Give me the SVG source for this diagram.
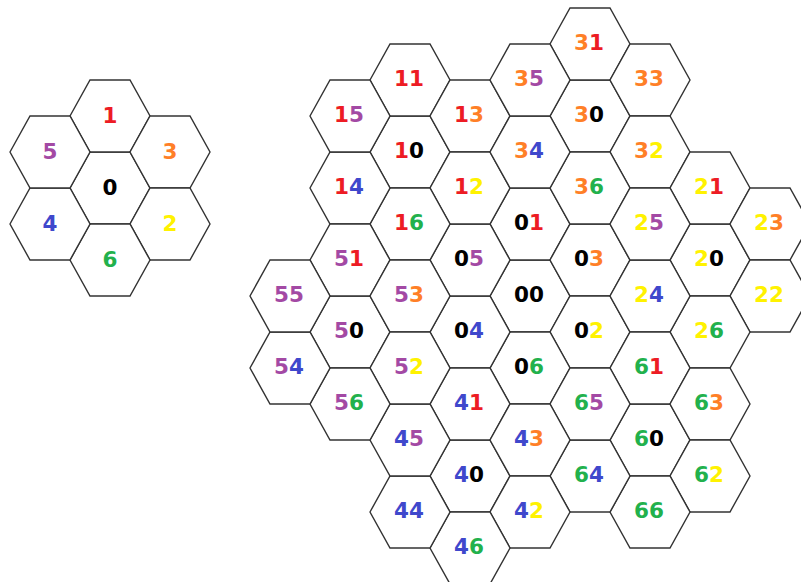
<svg xmlns="http://www.w3.org/2000/svg" xmlns:xlink="http://www.w3.org/1999/xlink" width="801" height="582" viewBox="0 0 801 582">
<style>
.hex{fill:#fff;stroke:#333;stroke-width:1.4}
text{font-family:"DejaVu Sans",Verdana,sans-serif;font-weight:bold;font-size:21.5px;text-anchor:middle}
.d0{fill:#000}.d1{fill:#ED1C24}.d2{fill:#FFF200}.d3{fill:#FF7F27}.d4{fill:#3F48CC}.d5{fill:#A349A4}.d6{fill:#22B14C}
</style>
<defs>
<polygon id="hex" class="hex" points="-40,0 -20,-36 20,-36 40,0 20,36 -20,36"/>
</defs>
<rect width="801" height="582" fill="#fff"/>
<g id="small">
<g id="s0"><use href="#hex" x="110" y="188"/><text x="110" y="195" class="d0">0</text></g>
<g id="s1"><use href="#hex" x="110" y="116"/><text x="110" y="123" class="d1">1</text></g>
<g id="s3"><use href="#hex" x="170" y="152"/><text x="170" y="159" class="d3">3</text></g>
<g id="s2"><use href="#hex" x="170" y="224"/><text x="170" y="231" class="d2">2</text></g>
<g id="s6"><use href="#hex" x="110" y="260"/><text x="110" y="267" class="d6">6</text></g>
<g id="s4"><use href="#hex" x="50" y="224"/><text x="50" y="231" class="d4">4</text></g>
<g id="s5"><use href="#hex" x="50" y="152"/><text x="50" y="159" class="d5">5</text></g>
</g>
<g id="big">
<g id="n00"><use href="#hex" x="530" y="296"/><text x="529" y="302"><tspan class="d0">0</tspan><tspan class="d0">0</tspan></text></g>
<g id="n01"><use href="#hex" x="530" y="224"/><text x="529" y="230"><tspan class="d0">0</tspan><tspan class="d1">1</tspan></text></g>
<g id="n03"><use href="#hex" x="590" y="260"/><text x="589" y="266"><tspan class="d0">0</tspan><tspan class="d3">3</tspan></text></g>
<g id="n02"><use href="#hex" x="590" y="332"/><text x="589" y="338"><tspan class="d0">0</tspan><tspan class="d2">2</tspan></text></g>
<g id="n06"><use href="#hex" x="530" y="368"/><text x="529" y="374"><tspan class="d0">0</tspan><tspan class="d6">6</tspan></text></g>
<g id="n04"><use href="#hex" x="470" y="332"/><text x="469" y="338"><tspan class="d0">0</tspan><tspan class="d4">4</tspan></text></g>
<g id="n05"><use href="#hex" x="470" y="260"/><text x="469" y="266"><tspan class="d0">0</tspan><tspan class="d5">5</tspan></text></g>

<g id="n10"><use href="#hex" x="410" y="152"/><text x="409" y="158"><tspan class="d1">1</tspan><tspan class="d0">0</tspan></text></g>
<g id="n11"><use href="#hex" x="410" y="80"/><text x="409" y="86"><tspan class="d1">1</tspan><tspan class="d1">1</tspan></text></g>
<g id="n13"><use href="#hex" x="470" y="116"/><text x="469" y="122"><tspan class="d1">1</tspan><tspan class="d3">3</tspan></text></g>
<g id="n12"><use href="#hex" x="470" y="188"/><text x="469" y="194"><tspan class="d1">1</tspan><tspan class="d2">2</tspan></text></g>
<g id="n16"><use href="#hex" x="410" y="224"/><text x="409" y="230"><tspan class="d1">1</tspan><tspan class="d6">6</tspan></text></g>
<g id="n14"><use href="#hex" x="350" y="188"/><text x="349" y="194"><tspan class="d1">1</tspan><tspan class="d4">4</tspan></text></g>
<g id="n15"><use href="#hex" x="350" y="116"/><text x="349" y="122"><tspan class="d1">1</tspan><tspan class="d5">5</tspan></text></g>

<g id="n30"><use href="#hex" x="590" y="116"/><text x="589" y="122"><tspan class="d3">3</tspan><tspan class="d0">0</tspan></text></g>
<g id="n31"><use href="#hex" x="590" y="44"/><text x="589" y="50"><tspan class="d3">3</tspan><tspan class="d1">1</tspan></text></g>
<g id="n33"><use href="#hex" x="650" y="80"/><text x="649" y="86"><tspan class="d3">3</tspan><tspan class="d3">3</tspan></text></g>
<g id="n32"><use href="#hex" x="650" y="152"/><text x="649" y="158"><tspan class="d3">3</tspan><tspan class="d2">2</tspan></text></g>
<g id="n36"><use href="#hex" x="590" y="188"/><text x="589" y="194"><tspan class="d3">3</tspan><tspan class="d6">6</tspan></text></g>
<g id="n34"><use href="#hex" x="530" y="152"/><text x="529" y="158"><tspan class="d3">3</tspan><tspan class="d4">4</tspan></text></g>
<g id="n35"><use href="#hex" x="530" y="80"/><text x="529" y="86"><tspan class="d3">3</tspan><tspan class="d5">5</tspan></text></g>

<g id="n20"><use href="#hex" x="710" y="260"/><text x="709" y="266"><tspan class="d2">2</tspan><tspan class="d0">0</tspan></text></g>
<g id="n21"><use href="#hex" x="710" y="188"/><text x="709" y="194"><tspan class="d2">2</tspan><tspan class="d1">1</tspan></text></g>
<g id="n23"><use href="#hex" x="770" y="224"/><text x="769" y="230"><tspan class="d2">2</tspan><tspan class="d3">3</tspan></text></g>
<g id="n22"><use href="#hex" x="770" y="296"/><text x="769" y="302"><tspan class="d2">2</tspan><tspan class="d2">2</tspan></text></g>
<g id="n26"><use href="#hex" x="710" y="332"/><text x="709" y="338"><tspan class="d2">2</tspan><tspan class="d6">6</tspan></text></g>
<g id="n24"><use href="#hex" x="650" y="296"/><text x="649" y="302"><tspan class="d2">2</tspan><tspan class="d4">4</tspan></text></g>
<g id="n25"><use href="#hex" x="650" y="224"/><text x="649" y="230"><tspan class="d2">2</tspan><tspan class="d5">5</tspan></text></g>

<g id="n60"><use href="#hex" x="650" y="440"/><text x="649" y="446"><tspan class="d6">6</tspan><tspan class="d0">0</tspan></text></g>
<g id="n61"><use href="#hex" x="650" y="368"/><text x="649" y="374"><tspan class="d6">6</tspan><tspan class="d1">1</tspan></text></g>
<g id="n63"><use href="#hex" x="710" y="404"/><text x="709" y="410"><tspan class="d6">6</tspan><tspan class="d3">3</tspan></text></g>
<g id="n62"><use href="#hex" x="710" y="476"/><text x="709" y="482"><tspan class="d6">6</tspan><tspan class="d2">2</tspan></text></g>
<g id="n66"><use href="#hex" x="650" y="512"/><text x="649" y="518"><tspan class="d6">6</tspan><tspan class="d6">6</tspan></text></g>
<g id="n64"><use href="#hex" x="590" y="476"/><text x="589" y="482"><tspan class="d6">6</tspan><tspan class="d4">4</tspan></text></g>
<g id="n65"><use href="#hex" x="590" y="404"/><text x="589" y="410"><tspan class="d6">6</tspan><tspan class="d5">5</tspan></text></g>

<g id="n40"><use href="#hex" x="470" y="476"/><text x="469" y="482"><tspan class="d4">4</tspan><tspan class="d0">0</tspan></text></g>
<g id="n41"><use href="#hex" x="470" y="404"/><text x="469" y="410"><tspan class="d4">4</tspan><tspan class="d1">1</tspan></text></g>
<g id="n43"><use href="#hex" x="530" y="440"/><text x="529" y="446"><tspan class="d4">4</tspan><tspan class="d3">3</tspan></text></g>
<g id="n42"><use href="#hex" x="530" y="512"/><text x="529" y="518"><tspan class="d4">4</tspan><tspan class="d2">2</tspan></text></g>
<g id="n46"><use href="#hex" x="470" y="548"/><text x="469" y="554"><tspan class="d4">4</tspan><tspan class="d6">6</tspan></text></g>
<g id="n44"><use href="#hex" x="410" y="512"/><text x="409" y="518"><tspan class="d4">4</tspan><tspan class="d4">4</tspan></text></g>
<g id="n45"><use href="#hex" x="410" y="440"/><text x="409" y="446"><tspan class="d4">4</tspan><tspan class="d5">5</tspan></text></g>

<g id="n50"><use href="#hex" x="350" y="332"/><text x="349" y="338"><tspan class="d5">5</tspan><tspan class="d0">0</tspan></text></g>
<g id="n51"><use href="#hex" x="350" y="260"/><text x="349" y="266"><tspan class="d5">5</tspan><tspan class="d1">1</tspan></text></g>
<g id="n53"><use href="#hex" x="410" y="296"/><text x="409" y="302"><tspan class="d5">5</tspan><tspan class="d3">3</tspan></text></g>
<g id="n52"><use href="#hex" x="410" y="368"/><text x="409" y="374"><tspan class="d5">5</tspan><tspan class="d2">2</tspan></text></g>
<g id="n56"><use href="#hex" x="350" y="404"/><text x="349" y="410"><tspan class="d5">5</tspan><tspan class="d6">6</tspan></text></g>
<g id="n54"><use href="#hex" x="290" y="368"/><text x="289" y="374"><tspan class="d5">5</tspan><tspan class="d4">4</tspan></text></g>
<g id="n55"><use href="#hex" x="290" y="296"/><text x="289" y="302"><tspan class="d5">5</tspan><tspan class="d5">5</tspan></text></g>
</g>
<g id="connectors"/>
</svg>
